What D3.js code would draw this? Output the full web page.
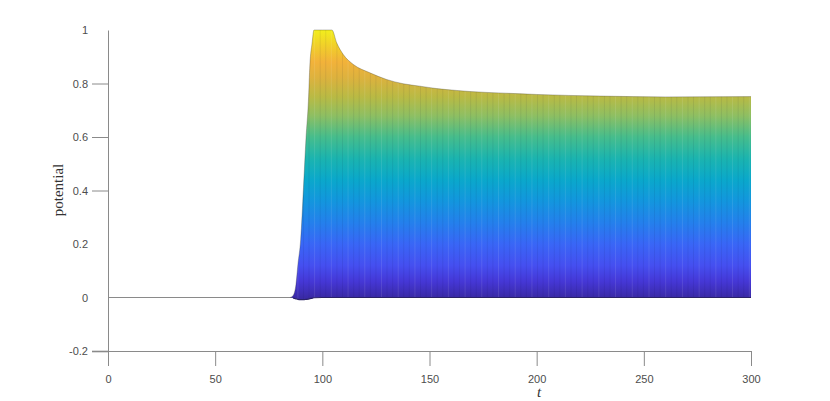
<!DOCTYPE html>
<meta charset="utf-8">
<script src="https://d3js.org/d3.v7.min.js"></script>
<style>
  body { margin: 0; background: #fff; }
  .tick text { font-family: "Liberation Sans", Arial, sans-serif; font-size: 11px; fill: #4d4d4d; }
  .axis path, .axis line { stroke: #8a8a8a; }
</style>
<div id="chart"></div>
<script>
  // time samples and the envelope of all potential traces
  const tValues = [0, 84.9, 86.3, 87.7, 88.6, 89.9, 91.2, 92.4, 93.5, 94.2, 95.2, 96.1, 100, 104.5,
    106.7, 109.8, 114.5, 122.2, 130, 137.8, 145.6, 153.4, 162.7, 168.9, 185, 200, 230, 260, 300];
  const upperValues = [0, 0, 0.007, 0.049, 0.123, 0.217, 0.41, 0.598, 0.734, 0.871, 0.95, 1, 1, 1,
    0.952, 0.908, 0.871, 0.840, 0.815, 0.799, 0.790, 0.781, 0.774, 0.770, 0.764, 0.759, 0.753, 0.750, 0.751];
  const lowerValues = [0, 0, -0.002, -0.005, -0.007, -0.008, -0.008, -0.007, -0.006, -0.004, -0.003, -0.001, 0, 0,
    0, 0, 0, 0, 0, 0, 0, 0, 0, 0, 0, 0, 0, 0, 0];

  const xTicks = [0, 50, 100, 150, 200, 250, 300];
  const yTicks = [-0.2, 0, 0.2, 0.4, 0.6, 0.8, 1];
  const yTicksWithMark = [-0.2, 0.4, 0.6, 0.8];

  // parula-like colour ramp, value -> colour
  const rampStops = [
    [0.00, "#3a2aa6"], [0.06, "#4537d6"], [0.12, "#454ff0"], [0.20, "#3966f6"],
    [0.28, "#2480ec"], [0.36, "#1396de"], [0.44, "#0aa8cb"], [0.52, "#1bb4af"],
    [0.60, "#46bd8c"], [0.68, "#8ebf62"], [0.75, "#b9ba44"], [0.82, "#dcb23e"],
    [0.88, "#f2b23a"], [0.94, "#f1cf2a"], [1.00, "#f2ee1c"]
  ];

  const W = 830, H = 401;
  const svg = d3.select("#chart").append("svg")
    .attr("width", W).attr("height", H);

  const x = d3.scaleLinear().domain([0, 300]).range([108, 751]);
  const y = d3.scaleLinear().domain([-0.2, 1]).range([351, 30]);

  const data = tValues.map((t, i) => ({ t: t, hi: upperValues[i], lo: lowerValues[i] }));

  // gradient over the value axis
  const defs = svg.append("defs");
  const grad = defs.append("linearGradient")
    .attr("id", "ramp")
    .attr("gradientUnits", "userSpaceOnUse")
    .attr("x1", 0).attr("x2", 0)
    .attr("y1", y(0)).attr("y2", y(1));
  grad.selectAll("stop").data(rampStops).join("stop")
    .attr("offset", d => d[0])
    .attr("stop-color", d => d[1]);

  const area = d3.area()
    .x(d => x(d.t))
    .y0(d => y(d.lo))
    .y1(d => y(d.hi))
    .curve(d3.curveMonotoneX);

  defs.append("clipPath").attr("id", "envClip")
    .append("path").attr("d", area(data));

  // zero line before the rise
  svg.append("line")
    .attr("x1", x(0)).attr("x2", x(86))
    .attr("y1", y(0)).attr("y2", y(0))
    .attr("stroke", "#8a8a8a").attr("stroke-width", 1);

  // filled envelope
  svg.append("path")
    .datum(data)
    .attr("d", area)
    .attr("fill", "url(#ramp)");

  // mesh-like vertical streaks
  const streaks = svg.append("g").attr("clip-path", "url(#envClip)");
  streaks.selectAll("line.dk")
    .data(d3.range(86, 300, 2.6))
    .join("line")
    .attr("x1", d => x(d)).attr("x2", d => x(d))
    .attr("y1", y(1.02)).attr("y2", y(-0.02))
    .attr("stroke", (d, i) => i % 3 === 1 ? "rgba(255,255,255,0.10)" : "rgba(20,20,60,0.07)")
    .attr("stroke-width", 1);

  // dark bottom edge and soft top edge
  const hiLine = d3.line().x(d => x(d.t)).y(d => y(d.hi)).curve(d3.curveMonotoneX);
  const loLine = d3.line().x(d => x(d.t)).y(d => y(d.lo)).curve(d3.curveMonotoneX);
  svg.append("path")
    .datum(data.filter(d => d.t >= 86))
    .attr("d", loLine)
    .attr("fill", "none").attr("stroke", "#2a2268").attr("stroke-width", 1.2);
  svg.append("path")
    .datum(data.filter(d => d.t >= 84.9))
    .attr("d", hiLine)
    .attr("fill", "none").attr("stroke", "rgba(60,60,50,0.35)").attr("stroke-width", 0.9);

  // axes
  const fmt = d => String(d);
  const yAxis = svg.append("g")
    .attr("class", "axis")
    .attr("transform", `translate(${x(0)},0)`)
    .call(d3.axisLeft(y).tickValues(yTicks).tickSize(16).tickSizeOuter(0).tickPadding(4).tickFormat(fmt));
  yAxis.selectAll(".tick line")
    .attr("display", d => yTicksWithMark.includes(d) ? null : "none");
  yAxis.selectAll(".tick line").filter(d => d === -0.2).attr("stroke-width", 1.6);
  yAxis.selectAll(".tick text").attr("dy", "0.35em");

  svg.append("g")
    .attr("class", "axis")
    .attr("transform", `translate(0,${y(-0.2)})`)
    .call(d3.axisBottom(x).tickValues(xTicks).tickSize(15).tickSizeOuter(0).tickPadding(9).tickFormat(fmt));

  svg.selectAll(".axis .domain").attr("stroke", "#8a8a8a");

  // labels
  svg.append("text")
    .attr("transform", `translate(63,190) rotate(-90)`)
    .attr("text-anchor", "middle")
    .style("font-family", "'Liberation Serif', 'Times New Roman', serif")
    .style("font-size", "15px")
    .style("fill", "#333")
    .text("potential");

  svg.append("text")
    .attr("x", 539).attr("y", 397)
    .attr("text-anchor", "middle")
    .style("font-family", "'Liberation Serif', 'Times New Roman', serif")
    .style("font-style", "italic")
    .style("font-size", "15px")
    .style("fill", "#333")
    .text("t");
</script>
